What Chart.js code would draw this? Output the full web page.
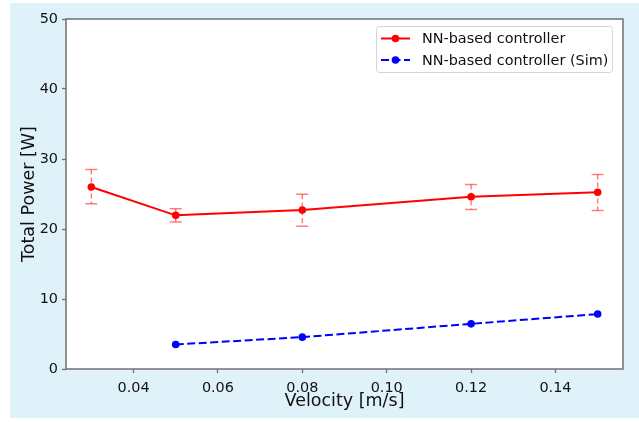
<!DOCTYPE html>
<html>
<head>
<meta charset="utf-8">
<script src="https://cdn.jsdelivr.net/npm/chart.js@4.4.1/dist/chart.umd.min.js"></script>
<style>
    html, body { margin: 0; padding: 0; background: #ffffff; }
    #wrap { width: 639px; height: 422px; }
</style>
</head>
<body>
<div id="wrap"><canvas id="chart" width="639" height="422"></canvas></div>
<script>
// values
const velocities = [0.03, 0.05, 0.08, 0.12, 0.15];
const powerMeasured = [26.0, 21.95, 22.7, 24.6, 25.25];
const powerLow = [23.6, 21.0, 20.4, 22.8, 22.65];
const powerHigh = [28.5, 22.9, 24.95, 26.35, 27.8];

const simVelocities = [0.05, 0.08, 0.12, 0.15];
const powerSim = [3.5, 4.55, 6.45, 7.85];

const xTicks = [0.04, 0.06, 0.08, 0.10, 0.12, 0.14];
const yTicks = [0, 10, 20, 30, 40, 50];

const FONT = '"DejaVu Sans", "Liberation Sans", sans-serif';
const SPINE = '#707070';

const backgroundPlugin = {
    id: 'figureBackground',
    beforeDraw(chart) {
        const ctx = chart.ctx;
        const area = chart.chartArea;
        ctx.save();
        ctx.fillStyle = '#ffffff';
        ctx.fillRect(0, 0, chart.width, chart.height);
        ctx.fillStyle = '#dff2fa';
        ctx.fillRect(10, 3, chart.width - 10, 415);
        ctx.fillStyle = '#ffffff';
        ctx.fillRect(area.left, area.top, area.right - area.left, area.bottom - area.top);
        ctx.restore();
    },
    afterDraw(chart) {
        const ctx = chart.ctx;
        const area = chart.chartArea;
        ctx.save();
        ctx.strokeStyle = SPINE;
        ctx.lineWidth = 1.5;
        ctx.strokeRect(area.left, area.top, area.right - area.left, area.bottom - area.top);
        ctx.restore();
    },
};

const errorBarPlugin = {
    id: 'errorBars',
    beforeDatasetsDraw(chart) {
        const ctx = chart.ctx;
        const x = chart.scales.x;
        const y = chart.scales.y;
        ctx.save();
        ctx.strokeStyle = 'rgba(255, 0, 0, 0.5)';
        ctx.lineWidth = 1.5;
        velocities.forEach((v, i) => {
            const px = x.getPixelForValue(v);
            const top = y.getPixelForValue(powerHigh[i]);
            const bottom = y.getPixelForValue(powerLow[i]);
            ctx.setLineDash([5, 3]);
            ctx.beginPath();
            ctx.moveTo(px, top);
            ctx.lineTo(px, bottom);
            ctx.stroke();
            ctx.setLineDash([]);
            ctx.beginPath();
            ctx.moveTo(px - 6, top);
            ctx.lineTo(px + 6, top);
            ctx.moveTo(px - 6, bottom);
            ctx.lineTo(px + 6, bottom);
            ctx.stroke();
        });
        ctx.restore();
    },
};

const legendPlugin = {
    id: 'boxLegend',
    afterDraw(chart) {
        const ctx = chart.ctx;
        const area = chart.chartArea;
        const w = 236;
        const h = 46;
        const left = area.right - 11 - w;
        const top = area.top + 7;

        ctx.save();
        ctx.fillStyle = 'rgba(255, 255, 255, 0.8)';
        ctx.strokeStyle = '#d4d4d4';
        ctx.lineWidth = 1;
        ctx.beginPath();
        ctx.roundRect(left + 0.5, top + 0.5, w, h, 3);
        ctx.fill();
        ctx.stroke();

        ctx.font = '14.4px ' + FONT;
        ctx.textBaseline = 'middle';
        ctx.textAlign = 'left';

        chart.data.datasets.forEach((ds, i) => {
            const rowY = top + 12.5 + i * 21.5;
            ctx.strokeStyle = ds.borderColor;
            ctx.lineWidth = 2;
            ctx.setLineDash(ds.borderDash || []);
            ctx.beginPath();
            ctx.moveTo(left + 5, rowY);
            ctx.lineTo(left + 34, rowY);
            ctx.stroke();
            ctx.setLineDash([]);
            ctx.fillStyle = ds.pointBackgroundColor;
            ctx.beginPath();
            ctx.arc(left + 19.5, rowY, 3.8, 0, Math.PI * 2);
            ctx.fill();
            ctx.fillStyle = '#111111';
            ctx.fillText(ds.label, left + 46, rowY + 1);
        });
        ctx.restore();
    },
};

const chart = new Chart(document.getElementById('chart').getContext('2d'), {
    type: 'line',
    data: {
        datasets: [
            {
                label: 'NN-based controller',
                data: velocities.map((v, i) => ({ x: v, y: powerMeasured[i] })),
                borderColor: '#ff0000',
                backgroundColor: '#ff0000',
                pointBackgroundColor: '#ff0000',
                pointBorderColor: '#ff0000',
                pointRadius: 3.8,
                pointBorderWidth: 0,
                borderWidth: 2,
                tension: 0,
            },
            {
                label: 'NN-based controller (Sim)',
                data: simVelocities.map((v, i) => ({ x: v, y: powerSim[i] })),
                borderColor: '#0000ff',
                backgroundColor: '#0000ff',
                pointBackgroundColor: '#0000ff',
                pointBorderColor: '#0000ff',
                pointRadius: 3.8,
                pointBorderWidth: 0,
                borderWidth: 2,
                borderDash: [8, 3.5],
                tension: 0,
            },
        ],
    },
    options: {
        responsive: false,
        animation: false,
        devicePixelRatio: 1,
        layout: {
            padding: { left: 0, right: 16, top: 19, bottom: 0 },
        },
        plugins: {
            legend: { display: false },
            tooltip: { enabled: false },
        },
        scales: {
            x: {
                type: 'linear',
                min: 0.024,
                max: 0.156,
                afterBuildTicks: (scale) => {
                    scale.ticks = xTicks.map((v) => ({ value: v }));
                },
                afterFit: (scale) => {
                    scale.height = 53;
                },
                ticks: {
                    color: '#111111',
                    font: { family: FONT, size: 14.4 },
                    padding: 7,
                    maxRotation: 0,
                    autoSkip: false,
                    callback: (value) => value.toFixed(2),
                },
                grid: {
                    drawOnChartArea: false,
                    drawTicks: true,
                    tickLength: 4,
                    tickColor: SPINE,
                    tickWidth: 1.3,
                },
                border: { display: false },
                title: {
                    display: true,
                    text: 'Velocity [m/s]',
                    color: '#111111',
                    font: { family: FONT, size: 17.5 },
                    padding: { top: 0, bottom: 10.5 },
                },
            },
            y: {
                min: 0,
                max: 50,
                afterBuildTicks: (scale) => {
                    scale.ticks = yTicks.map((v) => ({ value: v }));
                },
                afterFit: (scale) => {
                    scale.width = 66;
                },
                ticks: {
                    color: '#111111',
                    font: { family: FONT, size: 14.4 },
                    padding: 4,
                    autoSkip: false,
                },
                grid: {
                    drawOnChartArea: false,
                    drawTicks: true,
                    tickLength: 4,
                    tickColor: SPINE,
                    tickWidth: 1.3,
                },
                border: { display: false },
                title: {
                    display: true,
                    text: 'Total Power [W]',
                    color: '#111111',
                    font: { family: FONT, size: 17.5 },
                    padding: { top: 18.5, bottom: 0 },
                },
            },
        },
    },
    plugins: [backgroundPlugin, errorBarPlugin, legendPlugin],
});
</script>
</body>
</html>
